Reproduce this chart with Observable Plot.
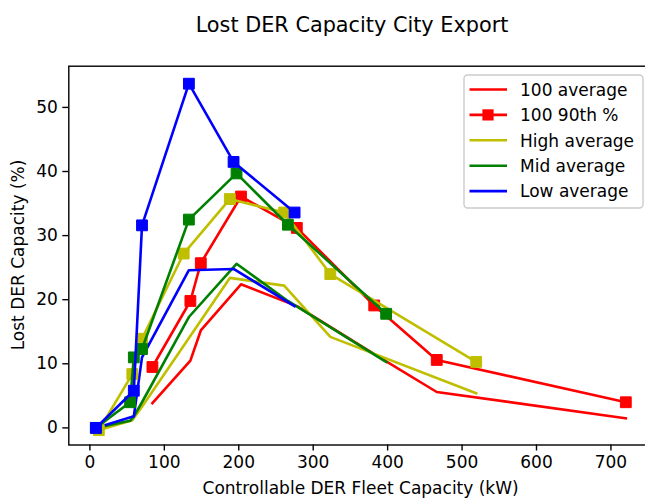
<!DOCTYPE html>
<html><head><meta charset="utf-8">
<script src="https://cdn.jsdelivr.net/npm/d3@7"></script>
<script src="https://cdn.jsdelivr.net/npm/@observablehq/plot@0.6"></script>
<style>
body{margin:0;background:#fff;}
#wrap{position:relative;width:645px;height:498px;overflow:hidden;font-family:"DejaVu Sans",sans-serif;}
#wrap svg{max-width:none !important;}
</style></head><body><div id="wrap"></div>
<script>
// ---- data ----
const titleText = "Lost DER Capacity City Export";
const xLabel = "Controllable DER Fleet Capacity (kW)";
const yLabel = "Lost DER Capacity (%)";
const xTicks = [0, 100, 200, 300, 400, 500, 600, 700];
const yTicks = [0, 10, 20, 30, 40, 50];

const x100 = [84, 135, 149, 203, 278, 382, 466, 720];
const avg100 = [3.85, 10.5, 15.2, 22.4, 19.0, 11.5, 5.6, 1.5];
const p90_100 = [9.5, 19.8, 25.7, 36.1, 31.2, 19.1, 10.6, 4.0];

const xHigh = [12, 57, 70, 126, 188, 261, 323, 519];
const avgHigh = [-0.35, 1.2, 3.3, 12.8, 23.4, 22.2, 14.2, 5.4];
const p90High = [-0.35, 8.4, 13.9, 27.2, 35.7, 33.6, 24.0, 10.3];

const xMid = [8, 54, 59, 70, 133, 197, 266, 398];
const avgMid = [0, 1.1, 1.8, 4.0, 17.3, 25.6, 19.8, 10.3];
const p90Mid = [0, 4.0, 11.0, 12.3, 32.5, 39.7, 31.7, 17.8];

const xLow = [8, 59, 70, 133, 193, 275];
const avgLow = [0, 1.8, 11.0, 24.6, 24.8, 19.0];
const p90Low = [0, 5.8, 31.6, 53.7, 41.5, 33.6];

const legendLabels = ["100 average", "100 90th %", "High average", "Mid average", "Low average"];
const legendColors = ["#ff0000", "#ff0000", "#bfbf00", "#008000", "#0000ff"];
const legendMarkers = [false, true, false, false, false];

// ---- build ----
const RED = "#ff0000", YEL = "#bfbf00", GRN = "#008000", BLU = "#0000ff";
const rows = (xs, ys) => xs.map((x, i) => ({x, y: ys[i]}));

const lineSeries = [
  {d: rows(x100, avg100), c: RED, m: false},
  {d: rows(x100, p90_100), c: RED, m: true},
  {d: rows(xHigh, avgHigh), c: YEL, m: false},
  {d: rows(xMid, avgMid), c: GRN, m: false},
  {d: rows(xLow, avgLow), c: BLU, m: false},
  {d: rows(xHigh, p90High), c: YEL, m: true},
  {d: rows(xMid, p90Mid), c: GRN, m: true},
  {d: rows(xLow, p90Low), c: BLU, m: true}
];

const W = 653, H = 498;
const mL = 68.3, mT = 65.7, mB = 53.5;
const marks = [
  Plot.axisX({ticks: xTicks, tickSize: 6, tickPadding: 5, fontSize: 17, strokeWidth: 1.4, label: null, tickFormat: d => String(d)}),
  Plot.axisY({ticks: yTicks, tickSize: 6, tickPadding: 5, fontSize: 17, strokeWidth: 1.4, label: null, tickFormat: d => String(d)})
];
for (const s of lineSeries) {
  marks.push(Plot.line(s.d, {x: "x", y: "y", stroke: s.c, strokeWidth: 2.6, strokeLinejoin: "round", strokeLinecap: "square"}));
  if (s.m) marks.push(Plot.dot(s.d, {x: "x", y: "y", fill: s.c, stroke: s.c, strokeWidth: 1, symbol: "square", r: 6.1}));
}
marks.push(Plot.frame({stroke: "black", strokeWidth: 1.4}));

const svg = Plot.plot({
  width: W, height: H,
  marginLeft: mL, marginRight: 0, marginTop: mT, marginBottom: mB,
  style: {fontFamily: "DejaVu Sans, sans-serif", color: "black", background: "white", maxWidth: "none"},
  x: {domain: [-28.35, 757.2]},
  y: {domain: [-2.67, 56.43]},
  marks
});
svg.style.maxWidth = "none";
document.getElementById("wrap").appendChild(svg);

const g = d3.select(svg).append("g").attr("font-family", "DejaVu Sans, sans-serif").attr("fill", "black");
g.append("text").attr("x", 352).attr("y", 32).attr("text-anchor", "middle").attr("font-size", 20.8).text(titleText);
g.append("text").attr("x", 360.6).attr("y", 494).attr("text-anchor", "middle").attr("font-size", 17).text(xLabel);
g.append("text").attr("transform", "translate(24,255) rotate(-90)").attr("text-anchor", "middle").attr("font-size", 17).text(yLabel);

// legend
const lg = d3.select(svg).append("g");
lg.append("rect").attr("x", 464).attr("y", 75).attr("width", 179).attr("height", 133).attr("rx", 3.5)
  .attr("fill", "white").attr("fill-opacity", 0.8).attr("stroke", "#cccccc").attr("stroke-width", 1.4);
legendLabels.forEach((lab, i) => {
  const y = 89.5 + 25.4 * i;
  lg.append("line").attr("x1", 469.5).attr("x2", 507).attr("y1", y).attr("y2", y)
    .attr("stroke", legendColors[i]).attr("stroke-width", 2.6);
  if (legendMarkers[i]) lg.append("rect").attr("x", 488 - 5.6).attr("y", y - 5.6).attr("width", 11.2).attr("height", 11.2).attr("fill", legendColors[i]);
  lg.append("text").attr("x", 520).attr("y", y + 6.3).attr("text-anchor", "start").attr("font-size", 17)
    .attr("font-family", "DejaVu Sans, sans-serif").attr("fill", "black").text(lab);
});
</script></body></html>
